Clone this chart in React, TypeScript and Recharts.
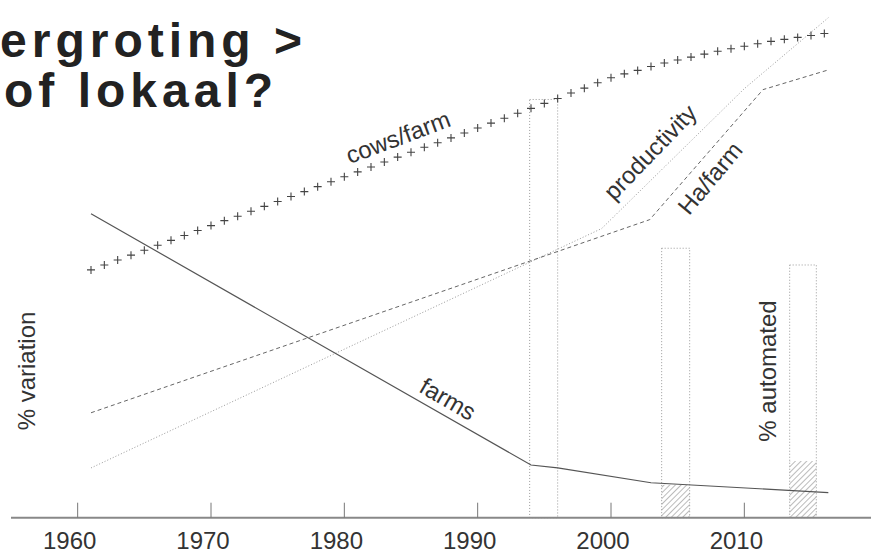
import React from 'react';
import { LineChart, Line, XAxis, YAxis, ReferenceArea } from 'recharts';

// x in years, y in "% variation" (arbitrary 0-100 scale)
const TICK_YEARS = [1960, 1970, 1980, 1990, 2000, 2010];

const FARMS_YEARS = [1961, 1994, 1996, 2003, 2016.3];
const FARMS_VALUES = [61.7, 10.7, 10.1, 7.1, 5.1];

const HA_YEARS = [1961, 2002.9, 2011.4, 2016.3];
const HA_VALUES = [21.3, 60.5, 86.9, 90.9];

const PROD_YEARS = [1961, 1999.3, 2010, 2016.3];
const PROD_VALUES = [10.1, 58.7, 87.1, 101.5];

const COWS_YEARS = [
  1961, 1962, 1963, 1964, 1965, 1966, 1967, 1968, 1969, 1970,
  1971, 1972, 1973, 1974, 1975, 1976, 1977, 1978, 1979, 1980,
  1981, 1982, 1983, 1984, 1985, 1986, 1987, 1988, 1989, 1990,
  1991, 1992, 1993, 1994, 1995, 1996, 1997, 1998, 1999, 2000,
  2001, 2002, 2003, 2004, 2005, 2006, 2007, 2008, 2009, 2010,
  2011, 2012, 2013, 2014, 2015, 2016,
];
const COWS_VALUES = [
  50.3, 51.3, 52.3, 53.3, 54.3, 55.3, 56.3, 57.3, 58.3, 59.3,
  60.3, 61.2, 62.2, 63.2, 64.2, 65.2, 66.2, 67.2, 68.2, 69.2,
  70.2, 71.2, 72.2, 73.2, 74.2, 75.2, 76.1, 77.1, 78.1, 79.1,
  80.1, 81.1, 82.1, 83.1, 84.1, 85.1, 86.2, 87.2, 88.3, 89.3,
  90.1, 90.8, 91.6, 92.3, 92.9, 93.5, 94.1, 94.7, 95.2, 95.7,
  96.2, 96.7, 97.1, 97.5, 97.9, 98.3,
];

// period boxes: start year, end year, height, automated share
const BOX_START = [1993.9, 2003.8, 2013.4];
const BOX_END = [1996.0, 2005.9, 2015.4];
const BOX_TOP = [84.9, 54.7, 51.3];
const BOX_AUTOMATED = [0, 6.7, 11.5];

const zip = (xs: number[], ys: number[]) => xs.map((year, i) => ({ year, value: ys[i] }));

const farms = zip(FARMS_YEARS, FARMS_VALUES);
const haFarm = zip(HA_YEARS, HA_VALUES);
const productivity = zip(PROD_YEARS, PROD_VALUES);
const cows = zip(COWS_YEARS, COWS_VALUES);

const FONT = '"Liberation Sans", Arial, Helvetica, sans-serif';
const INK = '#333';

const YearTick = (props: any) => {
  const { x, y, payload } = props;
  return (
    <g>
      <line x1={x} x2={x} y1={y - 15} y2={y} stroke="#777" strokeWidth={1} />
      <text x={x - 8} y={y + 31} textAnchor="middle" fontSize={24} fill={INK} fontFamily={FONT}>
        {payload.value}
      </text>
    </g>
  );
};

const PlusDot = (props: any) => {
  const { cx, cy, index } = props;
  if (cx == null || cy == null) return <g key={`p-${index}`} />;
  return (
    <path
      key={`p-${index}`}
      d={`M${cx - 4},${cy}h8M${cx},${cy - 4}v8`}
      stroke="#444"
      strokeWidth={1.1}
      fill="none"
    />
  );
};

const labels = [
  { text: 'cows/farm', x: 398, y: 137, angle: -20.5 },
  { text: 'productivity', x: 650, y: 152, angle: -46 },
  { text: 'Ha/farm', x: 710, y: 178, angle: -50 },
  { text: 'farms', x: 448, y: 399, angle: 30 },
  { text: '% variation', x: 26, y: 371, angle: -90 },
  { text: '% automated', x: 767, y: 371, angle: -90 },
];

export default function App() {
  return (
    <div style={{ position: 'absolute', left: 0, top: 0, width: 871, height: 553, background: '#fff', overflow: 'hidden' }}>
      <LineChart width={871} height={553} margin={{ top: 17.7, right: 0, bottom: 0, left: 11 }}>
        <defs>
          <pattern id="hatch" width="4" height="4" patternUnits="userSpaceOnUse" patternTransform="rotate(45)">
            <line x1="0" y1="0" x2="0" y2="4" stroke="#777" strokeWidth="1" />
          </pattern>
        </defs>
        <XAxis
          type="number"
          dataKey="year"
          domain={[1955, 2019.5]}
          ticks={TICK_YEARS}
          height={35.3}
          tickSize={0}
          tickMargin={0}
          tickLine={false}
          axisLine={{ stroke: '#888', strokeWidth: 2 }}
          tick={<YearTick />}
          allowDataOverflow
        />
        <YAxis type="number" domain={[0, 100]} hide />
        {BOX_START.map((x1, i) => (
          <ReferenceArea
            key={`box-${i}`}
            x1={x1}
            x2={BOX_END[i]}
            y1={0}
            y2={BOX_TOP[i]}
            fill="none"
            fillOpacity={0}
            stroke="#999"
            strokeWidth={1}
            strokeDasharray="1 2"
          />
        ))}
        {BOX_START.map((x1, i) =>
          BOX_AUTOMATED[i] > 0 ? (
            <ReferenceArea
              key={`hatch-${i}`}
              x1={x1}
              x2={BOX_END[i]}
              y1={0}
              y2={BOX_AUTOMATED[i]}
              fill="url(#hatch)"
              fillOpacity={1}
              stroke="none"
            />
          ) : null
        )}
        <Line data={productivity} dataKey="value" type="linear" stroke="#999" strokeWidth={1} strokeDasharray="1 2" dot={false} activeDot={false} isAnimationActive={false} />
        <Line data={haFarm} dataKey="value" type="linear" stroke="#666" strokeWidth={1} strokeDasharray="4 3" dot={false} activeDot={false} isAnimationActive={false} />
        <Line data={farms} dataKey="value" type="linear" stroke="#555" strokeWidth={1.2} dot={false} activeDot={false} isAnimationActive={false} />
        <Line data={cows} dataKey="value" type="linear" stroke="none" dot={PlusDot} activeDot={false} isAnimationActive={false} />
      </LineChart>
      <svg width={871} height={553} style={{ position: 'absolute', left: 0, top: 0, pointerEvents: 'none' }}>
        <g fontFamily={FONT} fontWeight="bold" fontSize={48} fill="#222" letterSpacing={5}>
          <text x={0} y={57}>ergroting &gt;</text>
          <text x={4} y={107}>of lokaal?</text>
        </g>
        {labels.map((l) => (
          <text
            key={l.text}
            x={l.x}
            y={l.y}
            transform={`rotate(${l.angle} ${l.x} ${l.y})`}
            textAnchor="middle"
            dominantBaseline="central"
            fontSize={24}
            fontFamily={FONT}
            fill={INK}
          >
            {l.text}
          </text>
        ))}
      </svg>
    </div>
  );
}
